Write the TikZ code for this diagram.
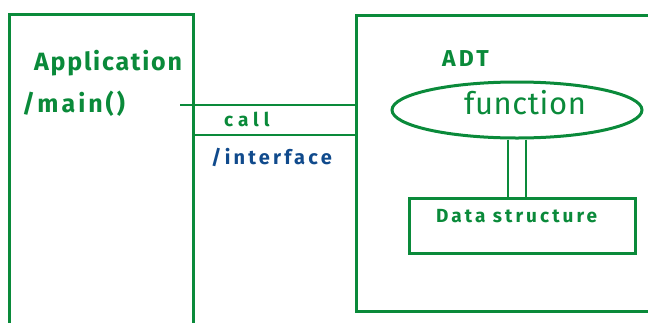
\documentclass[tikz,border=0pt]{standalone}
\usepackage{fontspec}
\setmainfont{Fira Sans}
\usetikzlibrary{shapes.geometric}
\definecolor{pen}{RGB}{10,138,58}
\definecolor{ink}{RGB}{16,74,140}
\newcommand{\wide}[1]{\addfontfeature{LetterSpace=#1}}
\begin{document}
\begin{tikzpicture}[x=1pt,y=-1pt,
  box/.style={draw=pen,line width=3pt,rectangle,inner sep=0pt},
  lab/.style={text=pen,inner sep=0pt},
  wire/.style={draw=pen,line width=2.5pt}]
\useasboundingbox (0,0) rectangle (648,322);
\clip (0,0) rectangle (648,322);
% boxes (extend past the page edges)
\node[box,minimum width=184pt,minimum height=330pt,anchor=north west] (app) at (7.5,12.5) {};
\node[box,minimum width=310pt,minimum height=296pt,anchor=north west] (adt) at (355,14) {};
% labels
\node[lab,anchor=west,font=\fontsize{25}{27}\selectfont\bfseries\wide{7}] (applbl) at (34,63) {Application};
\node[lab,anchor=west,font=\fontsize{25}{27}\selectfont\bfseries\wide{12}] (mainlbl) at (22,104) {/main()};
\node[lab,anchor=west,font=\fontsize{23}{25}\selectfont\bfseries\wide{14}] (adtlbl) at (442,59) {ADT};
% function ellipse
\node[draw=pen,line width=3pt,ellipse,minimum width=250pt,minimum height=56pt,inner sep=0pt] (fn) at (517,110) {};
\node[lab,font=\fontsize{31}{33}\selectfont\wide{2}] (fnlbl) at (525,103) {function};
% data structure
\node[box,minimum width=226pt,minimum height=55pt,anchor=north west] (ds) at (408,197) {};
\node[lab,anchor=west,font=\fontsize{19}{21}\selectfont\bfseries\wide{16}] (dslbl) at (436,216) {Data structure};
% call / interface lines
\coordinate (c1) at (180,105);
\coordinate (c2) at (app.east |- 0,135);
\draw[wire] (c1) -- (c1 -| adt.west);
\draw[wire] (c2) -- (c2 -| adt.west);
\node[lab,anchor=west,font=\fontsize{19}{21}\selectfont\bfseries\wide{26}] (calllbl) at (224,119) {call};
\node[lab,text=ink,anchor=west,font=\fontsize{20}{22}\selectfont\bfseries\wide{16}] (iflbl) at (211,157) {/interface};
% double link between function and data structure
\draw[wire] ([xshift=-9pt]fn.south) -- ([xshift=-9pt]fn.south |- ds.north);
\draw[wire] ([xshift=9pt]fn.south) -- ([xshift=9pt]fn.south |- ds.north);
\end{tikzpicture}
\end{document}
